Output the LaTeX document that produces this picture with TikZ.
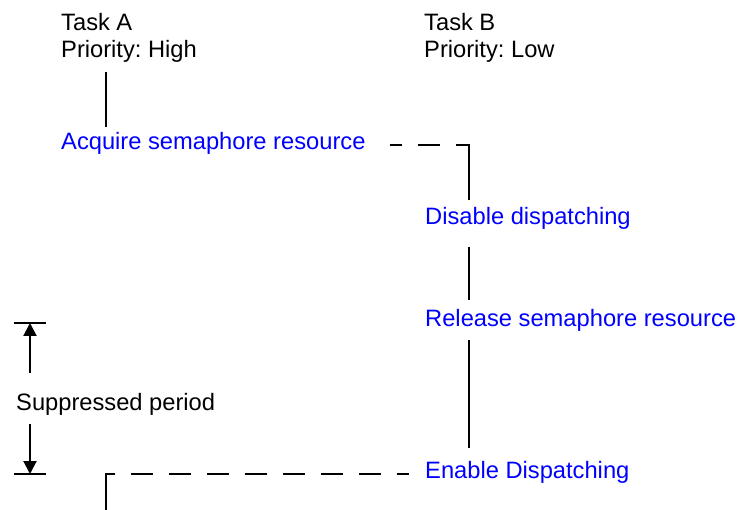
\documentclass[tikz,border=0pt]{standalone}
\usepackage{fontspec}
\setmainfont{Liberation Sans}
\usetikzlibrary{arrows.meta,positioning,calc}

\begin{document}
\frenchspacing
\begin{tikzpicture}[
    x=1pt, y=-1pt,
    tasktext/.style={inner sep=0pt, font=\fontsize{23.7}{27}\selectfont\frenchspacing, align=left},
    action/.style={tasktext, text=blue},
    wire/.style={line width=2pt},
    dashwire/.style={wire, dash pattern=on 22pt off 16pt, dash phase=10pt},
    dimarrow/.style={wire, -{Triangle[length=13pt,width=13pt]}}
]
    \useasboundingbox (0,0) rectangle (739,510);

    % Columns
    \coordinate (colA) at (106,0);
    \coordinate (colB) at (469,0);

    % Tasks
    \node[tasktext, anchor=north west] (taskA) at (61,13) {Task A\\Priority: High};
    \node[tasktext, anchor=north west] (taskB) at (424,13) {Task B\\Priority: Low};

    % Actions
    \node[action, anchor=base west] (acquire) at (61,150) {Acquire semaphore resource};
    \node[action, anchor=base west] (disable) at (425,225) {Disable dispatching};
    \node[action, anchor=base west] (release) at (425,327) {Release semaphore resource};
    \node[action, anchor=base west] (enable) at (425,478) {Enable Dispatching};

    % Suppressed period
    \node[tasktext, anchor=base west] (supp) at (16,410) {Suppressed period};
    \coordinate (supTop) at (30,323);
    \coordinate (supBot) at (30,474);

    % Task A
    \draw[wire] ($(taskA.south -| colA)+(0,10)$) -- ($(acquire.north -| colA)+(0,-6)$);

    % Hand over to task B
    \coordinate (cornerB) at ($(acquire.east -| colB)+(0,1)$);
    \draw[dashwire] ($(acquire.east)+(24,1)$) -- (cornerB);
    \draw[wire] ($(cornerB)+(0,-1)$) -- ($(disable.north -| colB)+(0,-8)$);
    \draw[wire] ($(disable.south -| colB)+(0,17)$) -- ($(release.north -| colB)+(0,-10)$);
    \draw[wire] ($(release.south -| colB)+(0,8)$) -- ($(enable.north -| colB)+(0,-13)$);

    % Back to task A
    \coordinate (cornerA) at ($(enable.west -| colA)+(0,2)$);
    \coordinate (endA) at (106,510);
    \draw[dashwire] ($(enable.west)+(-16,2)$) -- (cornerA);
    \draw[wire] ($(cornerA)+(0,-1)$) -- (endA);

    % Period marks
    \draw[wire] ($(supTop)+(-16,0)$) -- ($(supTop)+(16,0)$);
    \draw[wire] ($(supBot)+(-16,0)$) -- ($(supBot)+(16,0)$);
    \draw[dimarrow] ($(supp.north -| supTop)+(0,-20)$) -- (supTop);
    \draw[dimarrow] ($(supp.south -| supBot)+(0,9)$) -- (supBot);

\end{tikzpicture}
\end{document}
